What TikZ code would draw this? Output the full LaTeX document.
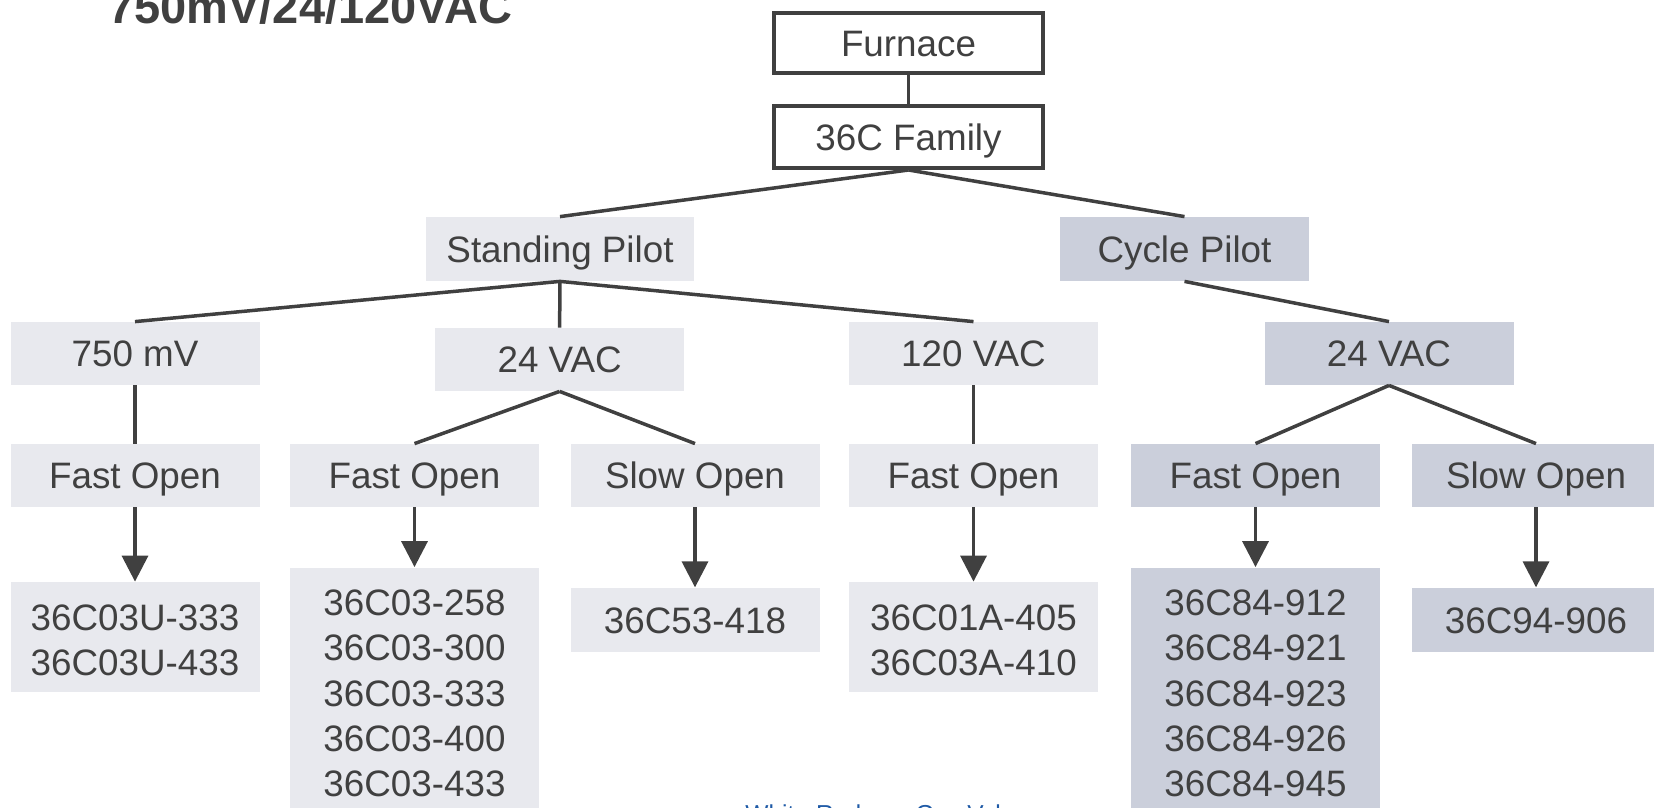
\documentclass[tikz,border=0pt]{standalone}
\usepackage{fontspec}
\setmainfont{Liberation Sans}
\usetikzlibrary{arrows.meta}
\definecolor{ink}{HTML}{404040}
\definecolor{lightbox}{HTML}{E8E9EE}
\definecolor{darkbox}{HTML}{CBCFDB}
\definecolor{linkblue}{HTML}{1F5AA6}
\newcommand{\highstart}[1]{\rule{0pt}{#1}}
\tikzset{
  base/.style={inner sep=0pt, align=center, text=ink, font=\fontsize{18.4pt}{22.7pt}\selectfont, minimum width=124.5pt, minimum height=31.5pt},
  oneline/.style={text height=13.2pt, text depth=0pt},
  lightnode/.style={base, fill=lightbox},
  darknode/.style={base, fill=darkbox},
  topnode/.style={base, oneline, fill=white, draw=ink, line width=2pt, minimum width=134.5pt, minimum height=30pt},
  link/.style={draw=ink, line width=1.75pt},
  arrowlink/.style={link, -{Triangle[width=13pt,length=13pt]}}
}
\begin{document}
\begin{tikzpicture}[x=0.5pt,y=-0.5pt]
\useasboundingbox (0,0) rectangle (1654,808);
\clip (0,0) rectangle (1654,808);
% title (cut at top)
\node[anchor=base west, inner sep=0pt, text=ink, font=\fontsize{23.5pt}{28pt}\selectfont\bfseries] (title) at (108,24) {750mV/24/120VAC};
% top
\node[topnode] (furnace) at (908.5,43) {Furnace};
\node[topnode, minimum height=31pt] (family) at (908.5,137) {36C Family};
% level 2
\node[lightnode, oneline, minimum width=134pt, minimum height=32pt] (sp) at (560,249) {Standing Pilot};
\node[darknode, oneline, minimum height=32pt] (cp) at (1184.5,249) {Cycle Pilot};
% level 3
\node[lightnode, oneline] (mv) at (135,353.5) {750 mV};
\node[lightnode, oneline] (va) at (559.6,359.5) {24 VAC};
\node[lightnode, oneline] (vc) at (973.5,353.5) {120 VAC};
\node[darknode, oneline] (vb) at (1389,353.5) {24 VAC};
% level 4
\node[lightnode, oneline] (fo1) at (135,475.5) {Fast Open};
\node[lightnode, oneline] (fo2) at (414.5,475.5) {Fast Open};
\node[lightnode, oneline] (so1) at (695,475.5) {Slow Open};
\node[lightnode, oneline] (fo3) at (973.5,475.5) {Fast Open};
\node[darknode, oneline] (fo4) at (1255.5,475.5) {Fast Open};
\node[darknode, oneline] (so2) at (1536,475.5) {Slow Open};
% results
\node[lightnode, minimum height=55pt] (r1) at (135,637) {\highstart{16.4pt}36C03U-333\\36C03U-433};
\node[lightnode, minimum height=123.5pt] (r2) at (414.5,691) {\highstart{15.2pt}36C03-258\\36C03-300\\36C03-333\\36C03-400\\36C03-433};
\node[lightnode, oneline, minimum height=32.25pt] (r3) at (695,620) {36C53-418};
\node[lightnode, minimum height=55pt] (r4) at (973.5,637) {\highstart{16.4pt}36C01A-405\\36C03A-410};
\node[darknode, minimum height=123.5pt] (r5) at (1255.5,691) {\highstart{15.2pt}36C84-912\\36C84-921\\36C84-923\\36C84-926\\36C84-945};
\node[darknode, oneline, minimum height=32.25pt] (r6) at (1536,620) {36C94-906};
% footer (cut at bottom)
\node[anchor=base west, inner sep=0pt, text=linkblue, font=\fontsize{12.25pt}{14pt}\selectfont] (footer) at (745,822) {White-Rodgers Gas Valves};
% connectors
\draw[link] (furnace.south) -- (family.north);
\draw[link] (family.south) -- (sp.north);
\draw[link] (family.south) -- (cp.north);
\draw[link] (sp.south) -- (mv.north);
\draw[link] (sp.south) -- (va.north);
\draw[link] (sp.south) -- (vc.north);
\draw[link] (cp.south) -- (vb.north);
\draw[link] (mv.south) -- (fo1.north);
\draw[link] (va.south) -- (fo2.north);
\draw[link] (va.south) -- (so1.north);
\draw[link] (vc.south) -- (fo3.north);
\draw[link] (vb.south) -- (fo4.north);
\draw[link] (vb.south) -- (so2.north);
\draw[arrowlink] (fo1.south) -- (r1.north);
\draw[arrowlink] (fo2.south) -- (r2.north);
\draw[arrowlink] (so1.south) -- (r3.north);
\draw[arrowlink] (fo3.south) -- (r4.north);
\draw[arrowlink] (fo4.south) -- (r5.north);
\draw[arrowlink] (so2.south) -- (r6.north);
\end{tikzpicture}
\end{document}
